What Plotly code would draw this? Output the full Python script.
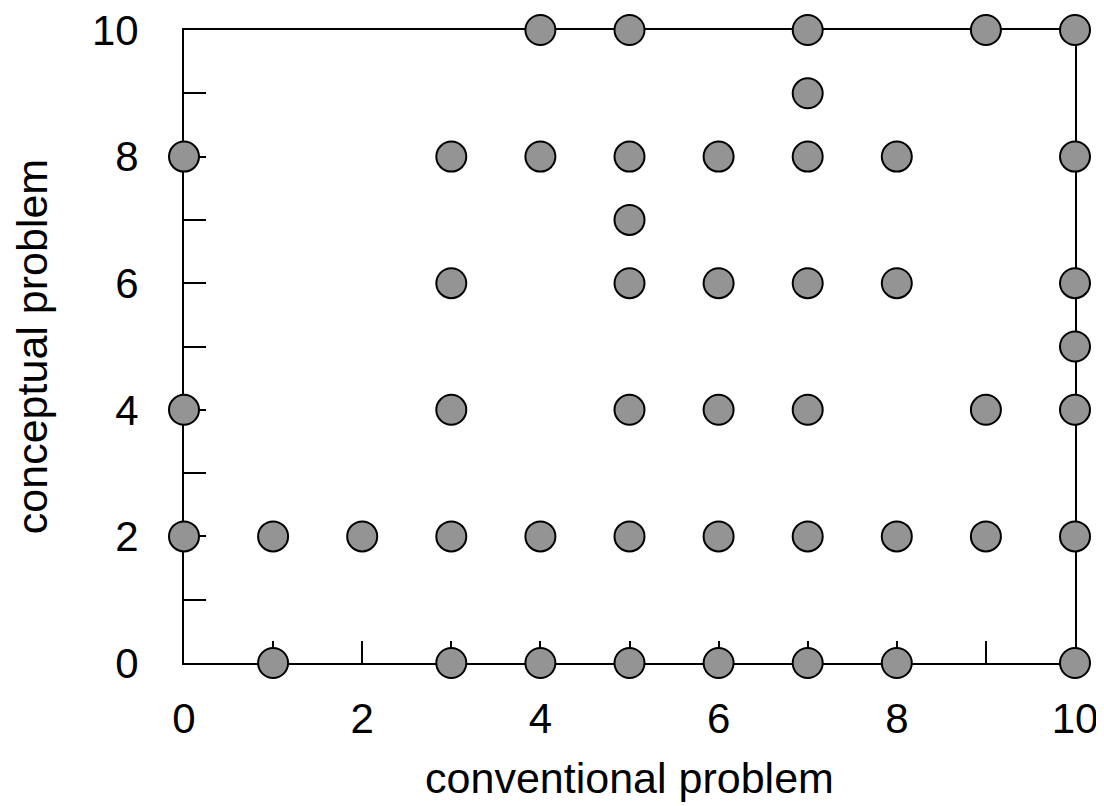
import plotly.graph_objects as go

# Data (conventional, conceptual)
conventional = [4, 5, 7, 9, 10,
                7,
                0, 3, 4, 5, 6, 7, 8, 10,
                5,
                3, 5, 6, 7, 8, 10,
                10,
                0, 3, 5, 6, 7, 9, 10,
                0, 1, 2, 3, 4, 5, 6, 7, 8, 9, 10,
                1, 3, 4, 5, 6, 7, 8, 10]
conceptual = [10, 10, 10, 10, 10,
              9,
              8, 8, 8, 8, 8, 8, 8, 8,
              7,
              6, 6, 6, 6, 6, 6,
              5,
              4, 4, 4, 4, 4, 4, 4,
              2, 2, 2, 2, 2, 2, 2, 2, 2, 2, 2,
              0, 0, 0, 0, 0, 0, 0, 0]
tick_vals = [0, 2, 4, 6, 8, 10]
tick_text = ["0", "2", "4", "6", "8", "10"]

FONT = "Liberation Sans, Arial, sans-serif"

fig = go.Figure()
fig.add_trace(go.Scatter(
    x=conventional, y=conceptual, mode="markers",
    marker=dict(size=30, color="#949494", line=dict(color="black", width=2)),
    cliponaxis=False, showlegend=False,
))

axis_common = dict(
    range=[0, 10], showgrid=False, zeroline=False, automargin=False,
    showline=True, linecolor="black", linewidth=2, mirror=True,
    layer="below traces", ticklabeloverflow="allow",
    ticks="inside", ticklen=22, tickwidth=2, tickcolor="black",
    tickvals=tick_vals, ticktext=tick_text,
    minor=dict(ticks="inside", ticklen=22, tickwidth=2, tickcolor="black", dtick=1, tick0=0, showgrid=False),
    tickfont=dict(family=FONT, size=42, color="black"),
    title_font=dict(family=FONT, size=43, color="black"),
)

fig.update_xaxes(**axis_common, title_text="conventional problem", title_standoff=21, ticklabelstandoff=18)
fig.update_yaxes(**axis_common, title_text="conceptual problem", title_standoff=32, ticklabelstandoff=35)

# page body has an 8px margin; compensate so the plot area lands where the reference has it
fig.update_layout(
    width=1104, height=806,
    margin=dict(l=176, r=37, t=22, b=151),
    plot_bgcolor="white", paper_bgcolor="white",
)

fig.write_html("out.html")
